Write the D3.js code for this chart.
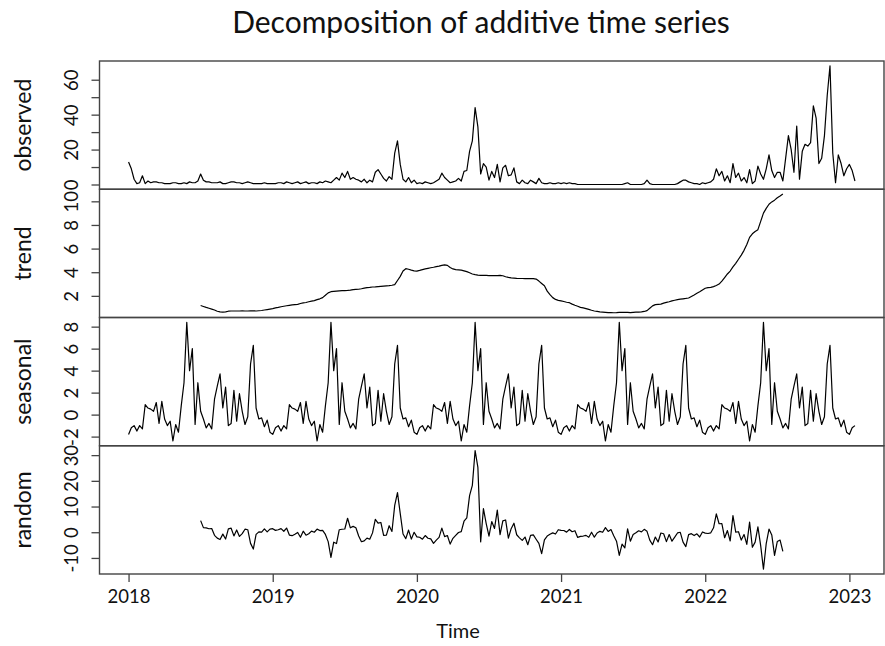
<!DOCTYPE html>
<html>
<head>
<meta charset="utf-8">
<script src="https://cdn.jsdelivr.net/npm/d3@7"></script>
<style>
  body { margin: 0; background: #fff; }
  text { font-family: Lato, "Open Sans", sans-serif; fill: #111; }
</style>
</head>
<body>
<svg id="chart" width="885" height="646"></svg>
<script>
// weekly series, starts at 2018 (frequency 52)
const startYear = 2018;
const freq = 52;

const observed = [
  // 2018
  12.9, 9, 3, 0.5, 1, 5, 0.5, 2, 1, 1.5, 1.5, 1, 1, 0.5, 0.5, 0.5, 1, 1, 0.5, 0.5,
  1, 0.5, 1.5, 1, 1, 2, 6, 2.5, 1.5, 1.5, 1, 1, 1, 1.5, 0.5, 0.5, 1, 1.5, 1.5, 1,
  1, 0.5, 1, 1.5, 1, 0.5, 0.5, 0.5, 0.5, 1, 0.5, 0.5,
  // 2019
  0.5, 0.5, 1, 1, 0.5, 1.5, 1, 0.5, 1, 1.5, 0.5, 1, 1.5, 0.5, 1, 1, 0.5, 1.5, 1, 2,
  1.5, 1, 2.5, 4, 2.5, 6.5, 4, 7.5, 3, 4, 3, 2.5, 1.5, 3, 1, 2.5, 1.5, 7, 8.5, 6,
  3.5, 2, 4.5, 3, 18, 25, 11.5, 3, 1.5, 4, 1, 2.5,
  // 2020
  0.5, 1, 0.5, 1.5, 1, 0.5, 1, 2, 3, 6.5, 4, 2.5, 1, 1.5, 2, 3.5, 2, 7.5, 8, 19,
  25, 44, 33, 6, 12, 10, 2.5, 7.5, 4, 11.5, 1.5, 9.5, 11, 5, 5.5, 9.5, 1.5, 0.5, 2.5, 1,
  0.5, 2.5, 1.5, 0.5, 3.5, 1, 0.5, 0.5, 1, 0.5, 0.5, 1,
  // 2021
  0.5, 1, 0.5, 1, 0.5, 0.5, 0, 0, 0, 0, 0, 0, 0, 0, 0, 0, 0, 0, 0, 0,
  0, 0, 0, 0.5, 1, 0, 0, 0, 0, 0, 0.5, 2.5, 0.5, 0, 0, 0, 0, 0, 0, 0,
  0, 0, 0.5, 1.5, 2.5, 2.5, 1.5, 1, 0.5, 0.5, 0, 1,
  // 2022 - 2023
  0.5, 1, 1.5, 3, 9, 5, 7.5, 2, 5, 1, 12, 4, 6.5, 2, 4, 1, 8.5, 0.5, 2, 10.5,
  6, 3, 9, 17, 8, 4, 7, 7, 2, 15, 28, 20, 7, 33.5, 3, 19, 23, 22, 24, 45,
  38, 12, 15, 28, 51, 68, 18, 1, 17, 12, 5, 9, 11.5, 8, 2
];

// trend and random are missing for the first and last 26 weeks
const trendStart = 26;
const trend = [
  1.18, 1.10, 1.02, 0.95, 0.88, 0.80, 0.70, 0.65, 0.63, 0.65, 0.70, 0.72, 0.72, 0.72, 0.72, 0.73,
  0.72, 0.72, 0.73, 0.73, 0.72, 0.74, 0.76, 0.80, 0.84, 0.88,
  0.92, 0.98, 1.02, 1.08, 1.12, 1.16, 1.20, 1.23, 1.26, 1.28, 1.35, 1.40, 1.44, 1.50, 1.56, 1.60,
  1.68, 1.75, 1.85, 2.05, 2.25, 2.35, 2.38, 2.40, 2.42, 2.44, 2.45, 2.46, 2.48, 2.52, 2.55, 2.56,
  2.60, 2.66, 2.70, 2.72, 2.75, 2.76, 2.78, 2.80, 2.82, 2.84, 2.86, 2.90, 2.95, 3.30, 3.65, 4.10,
  4.30, 4.25, 4.18, 4.12,
  4.10, 4.15, 4.22, 4.28, 4.33, 4.38, 4.42, 4.48, 4.52, 4.58, 4.62, 4.58, 4.40, 4.28, 4.22, 4.20,
  4.18, 4.12, 4.05, 3.95, 3.85, 3.80, 3.76, 3.74, 3.73, 3.73, 3.72, 3.72, 3.71, 3.72, 3.74, 3.70,
  3.62, 3.56, 3.52, 3.50, 3.48, 3.47, 3.47, 3.46, 3.46, 3.45, 3.45, 3.42, 3.25, 3.05, 2.85, 2.40,
  2.10, 1.85, 1.70, 1.62,
  1.58, 1.52, 1.46, 1.42, 1.30, 1.20, 1.12, 1.03, 0.98, 0.92, 0.85, 0.78, 0.72, 0.68, 0.64, 0.62,
  0.60, 0.58, 0.58, 0.57, 0.58, 0.60, 0.61, 0.60, 0.60, 0.58, 0.60, 0.62, 0.63, 0.65, 0.68, 0.75,
  0.95, 1.15, 1.26, 1.28, 1.30, 1.38, 1.45, 1.50, 1.58, 1.63, 1.68, 1.72, 1.75, 1.78, 1.82, 1.95,
  2.08, 2.22, 2.35, 2.50,
  2.64, 2.70, 2.72, 2.78, 2.88, 3.00, 3.25, 3.55, 3.85, 4.10, 4.45, 4.75, 5.10, 5.45, 5.85, 6.35,
  6.95, 7.25, 7.45, 7.60, 8.30, 9.00, 9.40, 9.75, 9.95, 10.10, 10.30, 10.45, 10.62
];

// one year of the seasonal figure (week 1 .. week 52)
const seasonalFigure = [
  -1.8, -1.2, -1.0, -1.5, -1.0, -1.3, 0.9, 0.6, 0.5, 0.3, 1.1, -0.8, 1.2, -0.4, -1.0, -0.6,
  -2.4, -0.9, -1.6, 0.8, 2.9, 8.4, 4.0, 6.0, -0.9, 2.9, 0.3, -0.4, -1.2, -0.8, -1.3, 1.4,
  2.6, 3.7, 0.6, 2.5, -1.0, -0.8, 2.2, -0.6, 1.9, 0.3, -0.9, -0.2, 4.6, 6.3, 0.6, -0.4,
  -0.3, -1.1, -0.5, -1.6
];

const random = [
  4.52, 1.80, 1.68, 1.35, 1.42, -1.20, -2.30, -2.85, -0.73, -2.65, 1.30, 1.58, -1.42, 0.88, -1.62, -0.53,
  1.18, 0.98, -4.33, -6.53, -0.82, 0.16, 0.04, 1.30, 0.16, 1.22,
  1.38, 0.72, 0.98, 1.42, 0.38, 1.64, -1.10, -1.33, -0.76, -0.08, -1.95, 0.40, -1.14, -0.60, 0.44, 0.00,
  1.22, 0.65, 0.75, -0.85, -3.65, -9.75, -3.88, -4.40, 0.98, 1.16, 1.25, 5.44, 1.72, 2.28, 1.75, -1.46,
  -3.70, -3.36, -2.30, -2.72, -0.25, 5.04, 3.52, 3.80, -1.22, -1.14, 2.54, 0.30, 10.45, 15.40, 7.25, -0.70,
  -2.50, 0.85, -2.68, -0.02,
  -1.80, -1.95, -2.72, -1.28, -2.33, -2.58, -4.32, -3.08, -2.02, 1.62, -1.72, -1.28, -4.60, -2.38, -1.22, -0.10,
  0.22, 4.28, 5.55, 14.25, 18.25, 31.80, 25.24, -3.74, 9.17, 3.37, -1.52, 4.18, 1.49, 8.58, -0.94, 4.40,
  4.78, -2.26, 1.38, 3.50, -0.98, -2.17, -3.17, -1.86, -4.86, -1.25, -1.05, -2.72, -4.35, -8.35, -2.95, -1.50,
  -0.80, -0.25, -0.70, 0.98,
  0.72, 0.68, 0.04, 1.08, 0.20, 0.60, -2.02, -1.63, -1.48, -1.22, -1.95, 0.02, -1.92, -0.28, 0.36, -0.02,
  1.80, 0.32, 1.02, -1.37, -3.48, -9.00, -4.61, -6.10, 1.30, -3.48, -0.90, -0.22, 0.57, 0.15, 1.12, 0.35,
  -3.05, -4.85, -1.86, -3.78, -0.30, -0.58, -3.65, -0.90, -3.48, -1.93, -0.28, -0.02, -3.85, -5.58, -0.92, -0.55,
  -1.28, -0.62, -1.85, 0.10,
  -0.34, -0.50, -0.22, 1.72, 7.12, 3.30, 3.35, -2.15, 0.65, -3.40, 6.45, 0.05, 0.20, -3.05, -0.85, -4.75,
  3.95, -5.85, -3.85, 2.10, -5.20, -14.40, -4.40, 1.25, -1.05, -9.00, -3.60, -3.05, -7.42
];

const yearTicks = [2018, 2019, 2020, 2021, 2022, 2023];
const observedTicks = [0, 10, 20, 30, 40, 50, 60];
const observedLabels = [0, 20, 40, 60];
const trendTicks = [2, 4, 6, 8, 10];
const seasonalTicks = [-2, 0, 2, 4, 6, 8];
const randomTicks = [-10, 0, 10, 20, 30];

const chartTitle = 'Decomposition of additive time series';

// ---- layout
const plotLeft = 99.5;
const plotRight = 884;
const plotTop = 61;
const plotBottom = 574;
const panelH = (plotBottom - plotTop) / 4;

const svg = d3.select('#chart');

const toPoints = (values, offset) =>
  values.map((v, i) => ({ t: startYear + (offset + i) / freq, v }));

const seasonal = observed.map((_, i) => seasonalFigure[i % freq]);

const panels = [
  { name: 'observed', pts: toPoints(observed, 0), ticks: observedTicks, labels: observedLabels },
  { name: 'trend', pts: toPoints(trend, trendStart), ticks: trendTicks, labels: trendTicks },
  { name: 'seasonal', pts: toPoints(seasonal, 0), ticks: seasonalTicks, labels: seasonalTicks },
  { name: 'random', pts: toPoints(random, trendStart), ticks: randomTicks, labels: randomTicks },
];

// R style axis range: data range widened by 4% on each side
function padded(extent) {
  const pad = (extent[1] - extent[0]) * 0.04;
  return [extent[0] - pad, extent[1] + pad];
}

const tExtent = [startYear, startYear + (observed.length - 1) / freq];
const x = d3.scaleLinear().domain(padded(tExtent)).range([plotLeft, plotRight]);

panels.forEach((p, k) => {
  const y0 = plotTop + k * panelH;
  const y1 = y0 + panelH;
  const y = d3.scaleLinear().domain(padded(d3.extent(p.pts, (d) => d.v))).range([y1, y0]);

  const g = svg.append('g').attr('class', 'panel ' + p.name);

  g.append('path')
    .datum(p.pts)
    .attr('fill', 'none')
    .attr('stroke', '#000')
    .attr('stroke-width', 1.2)
    .attr('stroke-linejoin', 'round')
    .attr('d', d3.line().x((d) => x(d.t)).y((d) => y(d.v)));

  g.append('rect')
    .attr('x', plotLeft).attr('y', y0)
    .attr('width', plotRight - plotLeft).attr('height', panelH)
    .attr('fill', 'none').attr('stroke', '#444').attr('stroke-width', 1.4);

  const axis = g.append('g')
    .attr('transform', `translate(${plotLeft},0)`)
    .call(d3.axisLeft(y).tickValues(p.ticks).tickSize(8).tickSizeOuter(0)
      .tickFormat((d) => (p.labels.includes(d) ? d : '')));
  axis.select('.domain').remove();
  axis.selectAll('.tick line').attr('stroke', '#444').attr('stroke-width', 1.3);
  axis.selectAll('.tick text')
    .attr('x', null).attr('dy', null)
    .attr('transform', 'translate(-22,0) rotate(-90)')
    .attr('text-anchor', 'middle')
    .style('font-family', 'Lato, sans-serif')
    .style('font-size', '18.5px')
    .attr('fill', '#111');

  svg.append('text')
    .attr('transform', `translate(31,${(y0 + y1) / 2}) rotate(-90)`)
    .attr('text-anchor', 'middle')
    .style('font-size', '23px')
    .text(p.name);

  if (k === panels.length - 1) {
    const xAxis = svg.append('g')
      .attr('transform', `translate(0,${y1})`)
      .call(d3.axisBottom(x).tickValues(yearTicks).tickSize(8).tickSizeOuter(0)
        .tickFormat(d3.format('d')));
    xAxis.select('.domain').remove();
    xAxis.selectAll('.tick line').attr('stroke', '#444').attr('stroke-width', 1.3);
    xAxis.selectAll('.tick text')
      .attr('y', 29).attr('dy', null)
      .style('font-family', 'Lato, sans-serif')
      .style('font-size', '18.5px')
      .attr('fill', '#111');
  }
});

svg.append('text')
  .attr('x', 458).attr('y', 638)
  .attr('text-anchor', 'middle')
  .style('font-size', '20px')
  .text('Time');

// title sized to the width it takes in the original
const title = svg.append('text')
  .attr('x', 481).attr('y', 33)
  .attr('text-anchor', 'middle')
  .style('font-size', '100px')
  .text(chartTitle);
const fullWidth = title.node().getComputedTextLength();
title.style('font-size', (100 * 498 / fullWidth).toFixed(1) + 'px');
</script>
</body>
</html>
